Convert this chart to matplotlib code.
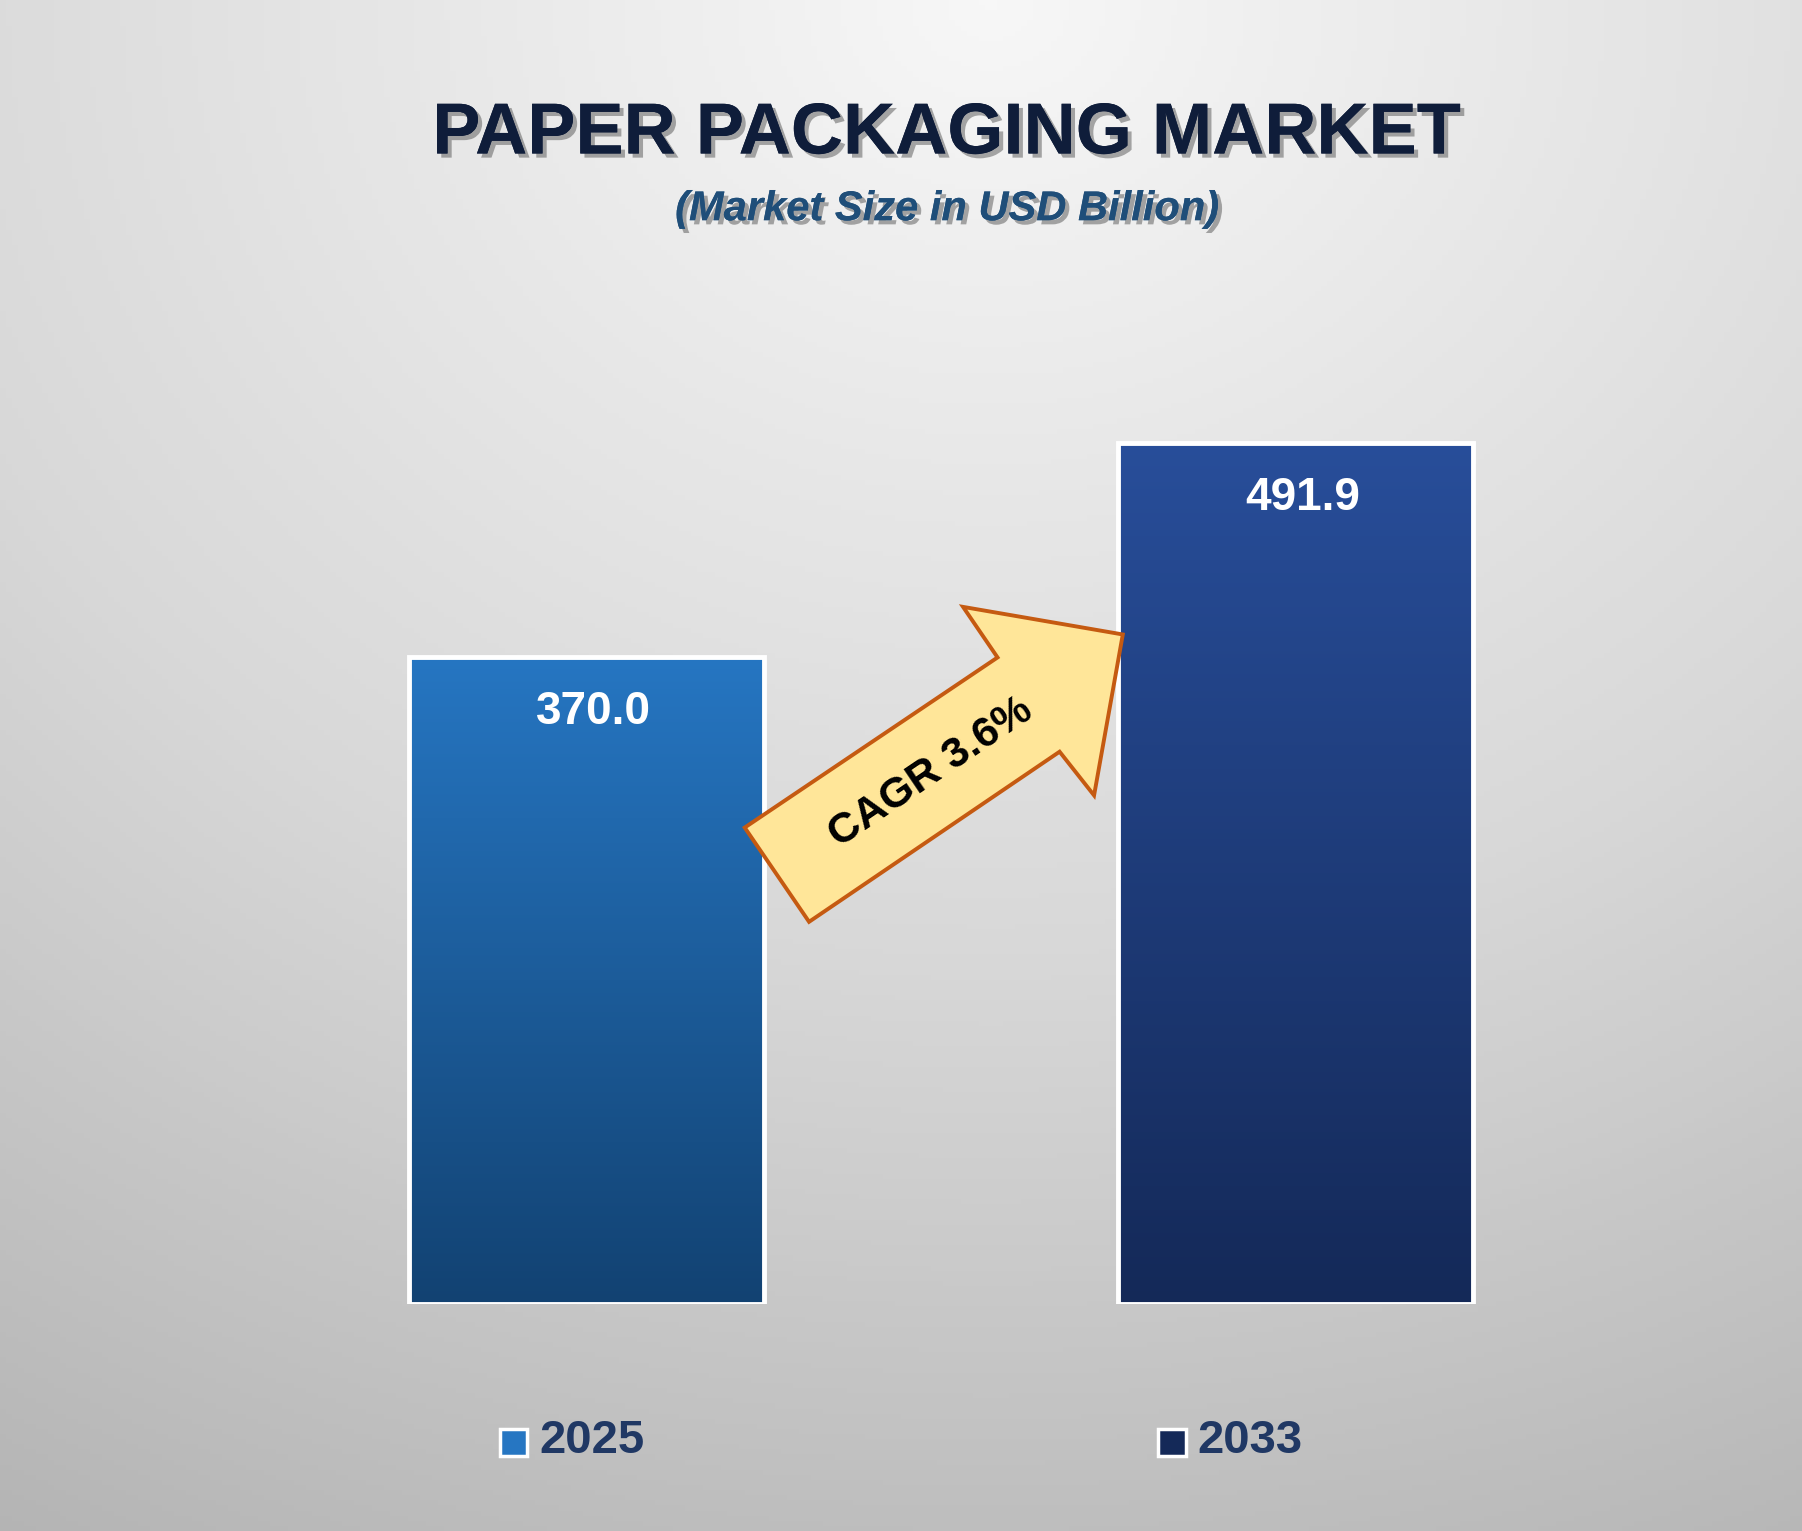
import numpy as np
import matplotlib
matplotlib.use("Agg")
import matplotlib.pyplot as plt
import matplotlib.patheffects as pe
from matplotlib.patches import Polygon, Rectangle
from matplotlib.colors import LinearSegmentedColormap

years = ["2025", "2033"]
values = [370.0, 491.9]
labels = ["370.0", "491.9"]
top_colors = ["#2676C2", "#284E9A"]
bot_colors = ["#124272", "#142958"]
cagr_text = "CAGR 3.6%"

plt.rcParams['font.family'] = ['Liberation Sans', 'DejaVu Sans']
fig = plt.figure(figsize=(18.02, 15.31), dpi=100)

# background gradient
bg = fig.add_axes([0, 0, 1, 1]); bg.set_axis_off()
yy, xx = np.mgrid[0:1:300j, 0:1:300j]
r = np.sqrt(((xx - 0.55) * 1.0) ** 2 + (yy * 1.0) ** 2)
bgcm = LinearSegmentedColormap.from_list("bg", ["#F7F7F7", "#D8D8D8", "#ADADAD"])
bg.imshow(r, cmap=bgcm, extent=[0, 1, 0, 1], aspect='auto', origin='upper', vmin=0, vmax=1.25)
bg.set_xlim(0, 1); bg.set_ylim(0, 1)

# bars
ax = fig.add_axes([0, 0.148, 1, 0.702])
ax.set_axis_off()
ax.set_xlim(-0.827, 1.714)
ax.set_ylim(0, 614)
bars = ax.bar(range(len(values)), values, width=0.5, color='none', edgecolor='white', linewidth=3.5, zorder=3)
for i, b in enumerate(bars):
    x0, w, h = b.get_x(), b.get_width(), b.get_height()
    cm = LinearSegmentedColormap.from_list("b%d" % i, [bot_colors[i], top_colors[i]])
    im = ax.imshow(np.linspace(0, 1, 256).reshape(-1, 1), cmap=cm, origin='lower',
                   extent=[x0, x0 + w, 0, h], aspect='auto', zorder=2)
    im.set_clip_path(Rectangle((x0, 0), w, h, transform=ax.transData))
    ax.text(i + 0.01, h - 0.035 * 614 * 1.0 - 10, labels[i], ha='center', va='center',
            color='white', fontsize=33, fontweight='bold', zorder=4)
ax.set_aspect('auto')

# overlay in reference pixel coords
ov = fig.add_axes([0, 0, 1, 1]); ov.set_axis_off()
ov.set_xlim(0, 1568); ov.set_ylim(1332, 0)
arrow = [(648, 720), (868, 572), (838, 528), (977, 552), (952, 692), (922, 654), (704, 802)]
ov.add_patch(Polygon(arrow, closed=True, facecolor='#FFE699', edgecolor='#C55A11', linewidth=2.8, zorder=5))
ov.text(810, 672, cagr_text, rotation=34, ha='center', va='center', fontsize=31,
        fontweight='bold', color='black', zorder=6, rotation_mode='anchor')

shadow = [pe.withSimplePatchShadow(offset=(3, -3), shadow_rgbFace='#555555', alpha=0.5), pe.Normal()]
ov.text(824, 117, "PAPER PACKAGING MARKET", ha='center', va='center', fontsize=52,
        fontweight='bold', color='#0F1D3A', path_effects=shadow)
ov.text(824, 182, "(Market Size in USD Billion)", ha='center', va='center', fontsize=30,
        fontweight='bold', style='italic', color='#1F4E79', path_effects=shadow)

for i, yr in enumerate(years):
    cx = [447, 1020][i]
    ov.add_patch(Rectangle((cx - 12, 1243), 24, 24, facecolor=top_colors[i] if i == 0 else bot_colors[i],
                           edgecolor='white', linewidth=2.5, zorder=5))
    ov.text(cx + 22, 1254, yr, ha='left', va='center', fontsize=34, fontweight='bold', color='#203864')

fig.savefig("out.png", dpi=100)
